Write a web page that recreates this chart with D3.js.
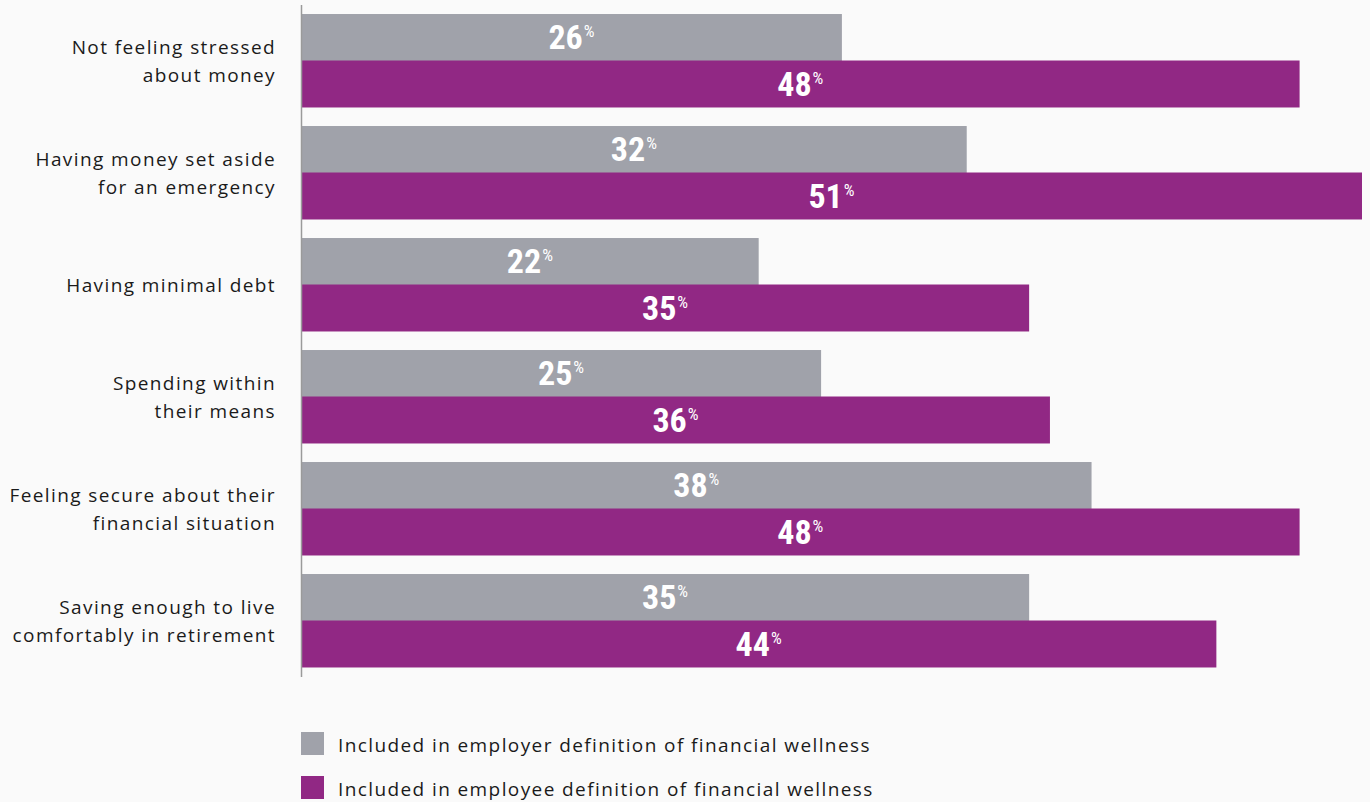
<!DOCTYPE html>
<head>
  <meta charset="utf-8">
  <script src="https://d3js.org/d3.v7.min.js"></script>
  <style>
    body {
      margin: 0;
      background: #fafafa;
    }
    .cat {
      font: 19px "Open Sans", "Noto Sans", sans-serif;
      letter-spacing: 1.4px;
      fill: #1a1a1a;
    }
    .val {
      font-family: "Liberation Sans Narrow", "Roboto Condensed", Roboto, sans-serif;
      font-weight: bold;
      fill: #fff;
    }
    .legend text {
      font: 19px "Open Sans", "Noto Sans", sans-serif;
      letter-spacing: 1.4px;
      fill: #1a1a1a;
    }
  </style>
</head>

<body>
<script>

var categories = [
  ["Not feeling stressed", "about money"],
  ["Having money set aside", "for an emergency"],
  ["Having minimal debt"],
  ["Spending within", "their means"],
  ["Feeling secure about their", "financial situation"],
  ["Saving enough to live", "comfortably in retirement"]
];
var employer = [26, 32, 22, 25, 38, 35];
var employee = [48, 51, 35, 36, 48, 44];
var seriesNames = ["Included in employer definition of financial wellness",
                   "Included in employee definition of financial wellness"];
var colors = ["#a0a2aa", "#912884"];

var width = 1370, height = 802;

var data = categories.map(function(c, i) {
  return {key: c.join(" "), lines: c, values: [employer[i], employee[i]]};
});

var svg = d3.select("body").append("svg")
  .attr("width", width)
  .attr("height", height);

var x = d3.scaleLinear()
  .domain([0, d3.max(employee)])
  .range([301, 1362]);

var y = d3.scaleBand()
  .domain(data.map(function(d) { return d.key; }))
  .range([4.5, 676.5])
  .paddingInner(0.17)
  .paddingOuter(0.085);

var ySub = d3.scaleBand()
  .domain([0, 1])
  .range([0, y.bandwidth()]);

var groups = svg.selectAll(".group")
  .data(data)
  .enter().append("g")
    .attr("class", "group")
    .attr("transform", function(d) { return "translate(0," + y(d.key) + ")"; });

groups.selectAll("rect")
  .data(function(d) { return d.values; })
  .enter().append("rect")
    .attr("x", x(0))
    .attr("y", function(d, i) { return ySub(i); })
    .attr("width", function(d) { return x(d) - x(0); })
    .attr("height", ySub.bandwidth() + 0.5)
    .style("fill", function(d, i) { return colors[i]; });

var vals = groups.selectAll(".val")
  .data(function(d) { return d.values; })
  .enter().append("text")
    .attr("class", "val")
    .attr("x", function(d) { return (x(0) + x(d)) / 2; })
    .attr("y", function(d, i) { return ySub(i) + ySub.bandwidth() / 2 + 12; })
    .style("text-anchor", "middle");
vals.append("tspan")
  .style("font-size", "34px")
  .text(function(d) { return d; });
vals.append("tspan")
  .style("font-size", "17px")
  .style("font-weight", "normal")
  .attr("dx", "1")
  .attr("dy", "-12")
  .text("%");

// category labels
groups.append("text")
  .attr("class", "cat")
  .attr("text-anchor", "end")
  .attr("y", function(d) { return y.bandwidth() / 2 - (d.lines.length - 1) * 14 + 8; })
  .selectAll("tspan")
  .data(function(d) { return d.lines; })
  .enter().append("tspan")
    .attr("x", 276)
    .attr("dy", function(d, i) { return i ? 28 : 0; })
    .text(function(d) { return d; });

// left axis line
svg.append("g")
  .attr("transform", "translate(" + x(0) + ",0)")
  .call(d3.axisLeft(y).tickSize(0).tickSizeOuter(0).tickFormat(""))
  .call(function(g) { g.select(".domain").attr("stroke", "#9a9a9a").attr("stroke-width", 1.5); });

// legend
var legend = svg.selectAll(".legend")
  .data(seriesNames)
  .enter().append("g")
    .attr("class", "legend")
    .attr("transform", function(d, i) { return "translate(301," + (732 + i * 44) + ")"; });

legend.append("rect")
  .attr("width", 23)
  .attr("height", 23)
  .style("fill", function(d, i) { return colors[i]; });

legend.append("text")
  .attr("x", 37)
  .attr("y", 13)
  .attr("dy", "0.35em")
  .text(function(d) { return d; });

</script>
